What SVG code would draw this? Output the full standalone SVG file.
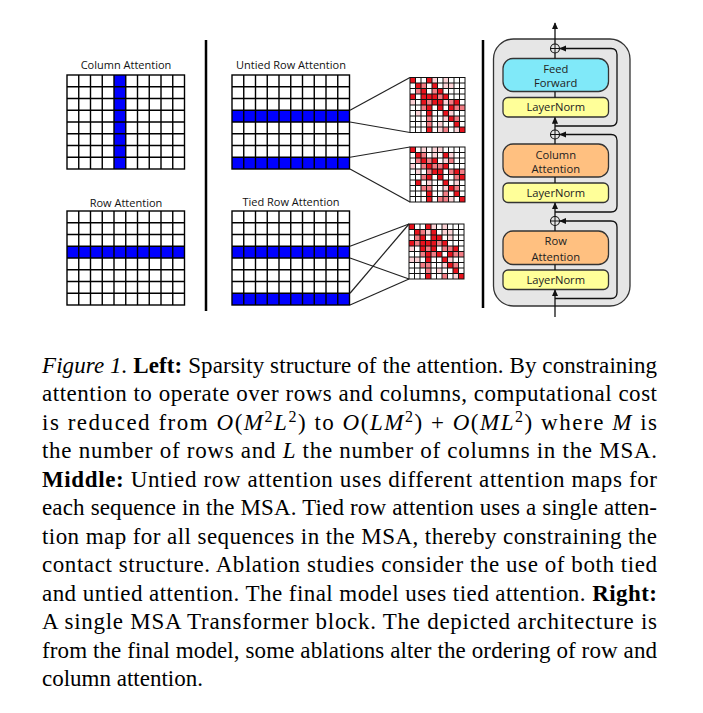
<svg xmlns="http://www.w3.org/2000/svg" xmlns:xlink="http://www.w3.org/1999/xlink" width="703" height="713" viewBox="0 0 703 713">
<style>
.lbl{font-family:"Open Sans","Noto Sans",sans-serif;font-size:11px;fill:#111;text-anchor:middle}
.btx{font-family:"Open Sans","Noto Sans",sans-serif;font-size:11.2px;fill:#222;text-anchor:middle}
.grid{fill:none;stroke:#000;stroke-width:1.4}
.mgrid{fill:none;stroke:#111;stroke-width:1}
.blue{fill:#0000ff}
.conn{fill:none;stroke:#222;stroke-width:1.2}
.arr{fill:none;stroke:#111;stroke-width:1.3}
.box{stroke:#333;stroke-width:1.3}
.ff{fill:#80e9f9}
.ln{fill:#ffff99}
.att{fill:#ffc080}
.cap{font-family:"Liberation Serif","Times New Roman",serif;font-size:23px;fill:#000}
.it{font-style:italic}
.bd{font-weight:bold}
.sep{stroke:#000;stroke-width:2.5}
</style>
<defs>
<g id="g10x8">
<rect x="0" y="0" width="117.5" height="94" class="grid"/>
<path class="grid" d="M11.75 0V94M23.5 0V94M35.25 0V94M47 0V94M58.75 0V94M70.5 0V94M82.25 0V94M94 0V94M105.75 0V94M0 11.75H117.5M0 23.5H117.5M0 35.25H117.5M0 47H117.5M0 58.75H117.5M0 70.5H117.5M0 82.25H117.5"/>
</g>
<g id="m10">
<rect x="0" y="0" width="55" height="55" class="mgrid" stroke-width="1.3"/>
<path class="mgrid" d="M5.5 0V55M11 0V55M16.5 0V55M22 0V55M27.5 0V55M33 0V55M38.5 0V55M44 0V55M49.5 0V55M0 5.5H55M0 11H55M0 16.5H55M0 22H55M0 27.5H55M0 33H55M0 38.5H55M0 44H55M0 49.5H55"/>
</g>
<rect id="D" width="5.5" height="5.5" fill="#e8121c"/>
<rect id="M" width="5.5" height="5.5" fill="#f27c84"/>
<rect id="L" width="5.5" height="5.5" fill="#fcd2d6"/>
<marker id="ah" viewBox="0 0 8 8" refX="7" refY="4" markerWidth="7" markerHeight="7" markerUnits="userSpaceOnUse" orient="auto">
<path d="M0 0.5L8 4L0 7.5Z" fill="#111"/>
</marker>
</defs>

<!-- Column Attention -->
<g id="column-attention">
<text class="lbl" x="126" y="69">Column Attention</text>
<rect x="67" y="75" width="117.5" height="94" fill="#fff"/>
<rect class="blue" x="114" y="75" width="11.75" height="94"/>
<use xlink:href="#g10x8" x="67" y="75"/>
</g>

<!-- Row Attention -->
<g id="row-attention">
<text class="lbl" x="126" y="207">Row Attention</text>
<rect x="67" y="211" width="117.5" height="94" fill="#fff"/>
<rect class="blue" x="67" y="246.25" width="117.5" height="11.75"/>
<use xlink:href="#g10x8" x="67" y="211"/>
</g>

<line class="sep" x1="206" y1="40" x2="206" y2="311"/>

<!-- Untied Row Attention -->
<g id="untied-row-attention">
<text class="lbl" x="291" y="69">Untied Row Attention</text>
<rect x="232" y="75" width="117.5" height="94" fill="#fff"/>
<rect class="blue" x="232" y="110.25" width="117.5" height="11.75"/>
<rect class="blue" x="232" y="157.25" width="117.5" height="11.75"/>
<use xlink:href="#g10x8" x="232" y="75"/>
</g>

<!-- Tied Row Attention -->
<g id="tied-row-attention">
<text class="lbl" x="291" y="205.5">Tied Row Attention</text>
<rect x="232" y="211" width="117.5" height="94" fill="#fff"/>
<rect class="blue" x="232" y="246.25" width="117.5" height="11.75"/>
<rect class="blue" x="232" y="293.25" width="117.5" height="11.75"/>
<use xlink:href="#g10x8" x="232" y="211"/>
</g>

<!-- attention map 1 -->
<g id="map-untied-1" transform="translate(410,77.5)">
<rect width="55" height="55" fill="#fff"/>
<use xlink:href="#D" x="0" y="0"/><use xlink:href="#D" x="16.5" y="0"/><use xlink:href="#L" x="22" y="0"/><use xlink:href="#L" x="33" y="0"/>
<use xlink:href="#D" x="5.5" y="5.5"/><use xlink:href="#M" x="11" y="5.5"/><use xlink:href="#D" x="22" y="5.5"/><use xlink:href="#L" x="33" y="5.5"/><use xlink:href="#L" x="38.5" y="5.5"/>
<use xlink:href="#M" x="5.5" y="11"/><use xlink:href="#D" x="11" y="11"/><use xlink:href="#M" x="22" y="11"/><use xlink:href="#D" x="27.5" y="11"/>
<use xlink:href="#D" x="0" y="16.5"/><use xlink:href="#D" x="11" y="16.5"/><use xlink:href="#D" x="16.5" y="16.5"/><use xlink:href="#D" x="22" y="16.5"/><use xlink:href="#M" x="27.5" y="16.5"/><use xlink:href="#D" x="33" y="16.5"/>
<use xlink:href="#L" x="0" y="22"/><use xlink:href="#D" x="11" y="22"/><use xlink:href="#M" x="16.5" y="22"/><use xlink:href="#D" x="22" y="22"/><use xlink:href="#D" x="27.5" y="22"/><use xlink:href="#L" x="33" y="22"/><use xlink:href="#M" x="38.5" y="22"/><use xlink:href="#D" x="44" y="22"/>
<use xlink:href="#M" x="11" y="27.5"/><use xlink:href="#D" x="16.5" y="27.5"/><use xlink:href="#D" x="27.5" y="27.5"/><use xlink:href="#D" x="38.5" y="27.5"/><use xlink:href="#M" x="44" y="27.5"/><use xlink:href="#M" x="49.5" y="27.5"/>
<use xlink:href="#L" x="5.5" y="33"/><use xlink:href="#D" x="16.5" y="33"/><use xlink:href="#D" x="33" y="33"/><use xlink:href="#L" x="38.5" y="33"/>
<use xlink:href="#M" x="16.5" y="38.5"/><use xlink:href="#L" x="33" y="38.5"/><use xlink:href="#D" x="38.5" y="38.5"/><use xlink:href="#M" x="44" y="38.5"/>
<use xlink:href="#M" x="16.5" y="44"/><use xlink:href="#L" x="27.5" y="44"/><use xlink:href="#D" x="44" y="44"/>
<use xlink:href="#D" x="16.5" y="49.5"/><use xlink:href="#L" x="27.5" y="49.5"/><use xlink:href="#M" x="33" y="49.5"/><use xlink:href="#L" x="44" y="49.5"/><use xlink:href="#D" x="49.5" y="49.5"/>
<use xlink:href="#m10"/>
</g>

<!-- attention map 2 -->
<g id="map-untied-2" transform="translate(410,147)">
<rect width="55" height="55" fill="#fff"/>
<use xlink:href="#D" x="0" y="0"/><use xlink:href="#L" x="11" y="0"/><use xlink:href="#L" x="22" y="0"/><use xlink:href="#L" x="27.5" y="0"/>
<use xlink:href="#D" x="5.5" y="5.5"/><use xlink:href="#M" x="11" y="5.5"/><use xlink:href="#L" x="22" y="5.5"/><use xlink:href="#D" x="33" y="5.5"/><use xlink:href="#L" x="38.5" y="5.5"/>
<use xlink:href="#M" x="5.5" y="11"/><use xlink:href="#D" x="11" y="11"/><use xlink:href="#M" x="16.5" y="11"/><use xlink:href="#D" x="22" y="11"/><use xlink:href="#L" x="33" y="11"/><use xlink:href="#M" x="38.5" y="11"/>
<use xlink:href="#L" x="0" y="16.5"/><use xlink:href="#M" x="11" y="16.5"/><use xlink:href="#D" x="16.5" y="16.5"/><use xlink:href="#M" x="22" y="16.5"/><use xlink:href="#M" x="27.5" y="16.5"/><use xlink:href="#D" x="33" y="16.5"/>
<use xlink:href="#L" x="5.5" y="22"/><use xlink:href="#M" x="16.5" y="22"/><use xlink:href="#D" x="22" y="22"/><use xlink:href="#D" x="27.5" y="22"/><use xlink:href="#M" x="38.5" y="22"/><use xlink:href="#D" x="44" y="22"/><use xlink:href="#M" x="49.5" y="22"/>
<use xlink:href="#M" x="11" y="27.5"/><use xlink:href="#D" x="16.5" y="27.5"/><use xlink:href="#D" x="27.5" y="27.5"/><use xlink:href="#M" x="44" y="27.5"/><use xlink:href="#D" x="49.5" y="27.5"/>
<use xlink:href="#D" x="5.5" y="33"/><use xlink:href="#L" x="16.5" y="33"/><use xlink:href="#D" x="33" y="33"/><use xlink:href="#L" x="44" y="33"/>
<use xlink:href="#M" x="11" y="38.5"/><use xlink:href="#M" x="16.5" y="38.5"/><use xlink:href="#L" x="33" y="38.5"/><use xlink:href="#D" x="38.5" y="38.5"/><use xlink:href="#M" x="44" y="38.5"/>
<use xlink:href="#D" x="16.5" y="44"/><use xlink:href="#M" x="33" y="44"/><use xlink:href="#D" x="44" y="44"/>
<use xlink:href="#D" x="16.5" y="49.5"/><use xlink:href="#M" x="27.5" y="49.5"/><use xlink:href="#M" x="33" y="49.5"/><use xlink:href="#L" x="38.5" y="49.5"/><use xlink:href="#D" x="49.5" y="49.5"/>
<use xlink:href="#m10"/>
</g>

<!-- attention map 3 (tied) -->
<g id="map-tied" transform="translate(409,224)">
<rect width="55" height="55" fill="#fff"/>
<use xlink:href="#D" x="0" y="0"/><use xlink:href="#D" x="16.5" y="0"/><use xlink:href="#L" x="22" y="0"/><use xlink:href="#L" x="33" y="0"/>
<use xlink:href="#D" x="5.5" y="5.5"/><use xlink:href="#M" x="11" y="5.5"/><use xlink:href="#L" x="16.5" y="5.5"/><use xlink:href="#D" x="22" y="5.5"/><use xlink:href="#L" x="33" y="5.5"/><use xlink:href="#L" x="38.5" y="5.5"/>
<use xlink:href="#M" x="5.5" y="11"/><use xlink:href="#D" x="11" y="11"/><use xlink:href="#D" x="22" y="11"/><use xlink:href="#D" x="27.5" y="11"/><use xlink:href="#L" x="38.5" y="11"/>
<use xlink:href="#D" x="0" y="16.5"/><use xlink:href="#M" x="5.5" y="16.5"/><use xlink:href="#D" x="11" y="16.5"/><use xlink:href="#D" x="16.5" y="16.5"/><use xlink:href="#D" x="22" y="16.5"/><use xlink:href="#M" x="27.5" y="16.5"/><use xlink:href="#D" x="33" y="16.5"/>
<use xlink:href="#L" x="0" y="22"/><use xlink:href="#D" x="11" y="22"/><use xlink:href="#M" x="16.5" y="22"/><use xlink:href="#D" x="22" y="22"/><use xlink:href="#M" x="33" y="22"/><use xlink:href="#M" x="38.5" y="22"/><use xlink:href="#D" x="44" y="22"/>
<use xlink:href="#M" x="11" y="27.5"/><use xlink:href="#D" x="16.5" y="27.5"/><use xlink:href="#M" x="22" y="27.5"/><use xlink:href="#D" x="27.5" y="27.5"/><use xlink:href="#D" x="38.5" y="27.5"/><use xlink:href="#M" x="44" y="27.5"/><use xlink:href="#M" x="49.5" y="27.5"/>
<use xlink:href="#L" x="0" y="33"/><use xlink:href="#L" x="5.5" y="33"/><use xlink:href="#D" x="16.5" y="33"/><use xlink:href="#D" x="33" y="33"/><use xlink:href="#L" x="38.5" y="33"/>
<use xlink:href="#M" x="11" y="38.5"/><use xlink:href="#M" x="16.5" y="38.5"/><use xlink:href="#L" x="33" y="38.5"/><use xlink:href="#D" x="38.5" y="38.5"/><use xlink:href="#M" x="44" y="38.5"/>
<use xlink:href="#M" x="16.5" y="44"/><use xlink:href="#L" x="27.5" y="44"/><use xlink:href="#D" x="44" y="44"/>
<use xlink:href="#D" x="16.5" y="49.5"/><use xlink:href="#M" x="33" y="49.5"/><use xlink:href="#L" x="44" y="49.5"/><use xlink:href="#D" x="49.5" y="49.5"/>
<use xlink:href="#m10"/>
</g>

<line class="sep" x1="483" y1="40" x2="483" y2="308"/>

<!-- Transformer block -->
<g id="block">
<rect x="493.5" y="39" width="136.5" height="267" rx="20" fill="#e6e6e6" stroke="#333" stroke-width="1.3"/>
</g>
<g id="feed-forward">
<rect class="box ff" x="503" y="58.5" width="105.5" height="33" rx="10"/>
<text class="btx" x="555.75" y="73">Feed</text>
<text class="btx" x="555.75" y="87">Forward</text>
</g>
<g id="layernorm-1">
<rect class="box ln" x="503" y="97.5" width="105.5" height="19.5" rx="5"/>
<text class="btx" x="555.75" y="110.5">LayerNorm</text>
</g>
<g id="column-attention-box">
<rect class="box att" x="503" y="144" width="105.5" height="33" rx="10"/>
<text class="btx" x="555.75" y="158.5">Column</text>
<text class="btx" x="555.75" y="173">Attention</text>
</g>
<g id="layernorm-2">
<rect class="box ln" x="503" y="183" width="105.5" height="19.5" rx="5"/>
<text class="btx" x="555.75" y="196.5">LayerNorm</text>
</g>
<g id="row-attention-box">
<rect class="box att" x="503" y="231" width="105.5" height="33.5" rx="10"/>
<text class="btx" x="555.75" y="245">Row</text>
<text class="btx" x="555.75" y="260.5">Attention</text>
</g>
<g id="layernorm-3">
<rect class="box ln" x="503" y="270" width="105.5" height="19.5" rx="5"/>
<text class="btx" x="555.75" y="283.5">LayerNorm</text>
</g>
<g id="plus-1"><circle cx="555" cy="48.5" r="4.5" fill="none" stroke="#111" stroke-width="1.1"/><path d="M550.5 48.5H559.5M555 44V53" stroke="#111" stroke-width="1"/></g>
<g id="plus-2"><circle cx="555" cy="134.5" r="4.5" fill="none" stroke="#111" stroke-width="1.1"/><path d="M550.5 134.5H559.5M555 130V139" stroke="#111" stroke-width="1"/></g>
<g id="plus-3"><circle cx="555" cy="221" r="4.5" fill="none" stroke="#111" stroke-width="1.1"/><path d="M550.5 221H559.5M555 216.5V225.5" stroke="#111" stroke-width="1"/></g>

<!-- connectors -->
<g id="connectors">
<line class="conn" x1="350" y1="110.25" x2="410" y2="77.5"/>
<line class="conn" x1="350" y1="122" x2="410" y2="132.5"/>
<line class="conn" x1="350" y1="157.25" x2="410" y2="147"/>
<line class="conn" x1="350" y1="169" x2="410" y2="202"/>
<line class="conn" x1="350" y1="246.25" x2="409" y2="224"/>
<line class="conn" x1="350" y1="258" x2="409" y2="279"/>
<line class="conn" x1="350" y1="293.25" x2="409" y2="224"/>
<line class="conn" x1="350" y1="305" x2="409" y2="279"/>

<path class="arr" d="M555 44V23" marker-end="url(#ah)"/>
<path class="arr" d="M555 53V58.5M555 91.5V97.5"/>
<path class="arr" d="M555 130V117.5" marker-end="url(#ah)"/>
<path class="arr" d="M555 126H611Q617 126 617 120V54.5Q617 48.5 611 48.5H560" marker-end="url(#ah)"/>
<path class="arr" d="M555 139V144M555 177V183"/>
<path class="arr" d="M555 216.5V203" marker-end="url(#ah)"/>
<path class="arr" d="M555 212H611Q617 212 617 206V140.5Q617 134.5 611 134.5H560" marker-end="url(#ah)"/>
<path class="arr" d="M555 225.5V231M555 264.5V270"/>
<path class="arr" d="M555 317V290" marker-end="url(#ah)"/>
<path class="arr" d="M555 298.5H611Q617 298.5 617 292.5V227Q617 221 611 221H560" marker-end="url(#ah)"/>
</g>

<!-- caption -->
<g id="caption" class="cap">
<text x="42" y="372.5" textLength="615" lengthAdjust="spacing"><tspan class="it">Figure 1.</tspan> <tspan class="bd">Left:</tspan> Sparsity structure of the attention. By constraining</text>
<text x="42" y="401" textLength="615" lengthAdjust="spacing">attention to operate over rows and columns, computational cost</text>
<text x="42" y="429.5" textLength="615" lengthAdjust="spacing">is reduced from <tspan class="it">O</tspan>(<tspan class="it">M</tspan><tspan font-size="16" dy="-8">2</tspan><tspan class="it" dy="8">L</tspan><tspan font-size="16" dy="-8">2</tspan><tspan dy="8">) to </tspan><tspan class="it">O</tspan>(<tspan class="it">LM</tspan><tspan font-size="16" dy="-8">2</tspan><tspan dy="8">) + </tspan><tspan class="it">O</tspan>(<tspan class="it">ML</tspan><tspan font-size="16" dy="-8">2</tspan><tspan dy="8">) where </tspan><tspan class="it">M</tspan> is</text>
<text x="42" y="458" textLength="615" lengthAdjust="spacing">the number of rows and <tspan class="it">L</tspan> the number of columns in the MSA.</text>
<text x="42" y="486.5" textLength="615" lengthAdjust="spacing"><tspan class="bd">Middle:</tspan>  Untied row attention uses different attention maps for</text>
<text x="42" y="515" textLength="615" lengthAdjust="spacing">each sequence in the MSA. Tied row attention uses a single atten-</text>
<text x="42" y="543.5" textLength="615" lengthAdjust="spacing">tion map for all sequences in the MSA, thereby constraining the</text>
<text x="42" y="572" textLength="615" lengthAdjust="spacing">contact structure. Ablation studies consider the use of both tied</text>
<text x="42" y="600.5" textLength="615" lengthAdjust="spacing">and untied attention. The final model uses tied attention. <tspan class="bd">Right:</tspan></text>
<text x="42" y="629" textLength="615" lengthAdjust="spacing">A single MSA Transformer block. The depicted architecture is</text>
<text x="42" y="657.5" textLength="615" lengthAdjust="spacing">from the final model, some ablations alter the ordering of row and</text>
<text x="42" y="686">column attention.</text>
</g>
</svg>
